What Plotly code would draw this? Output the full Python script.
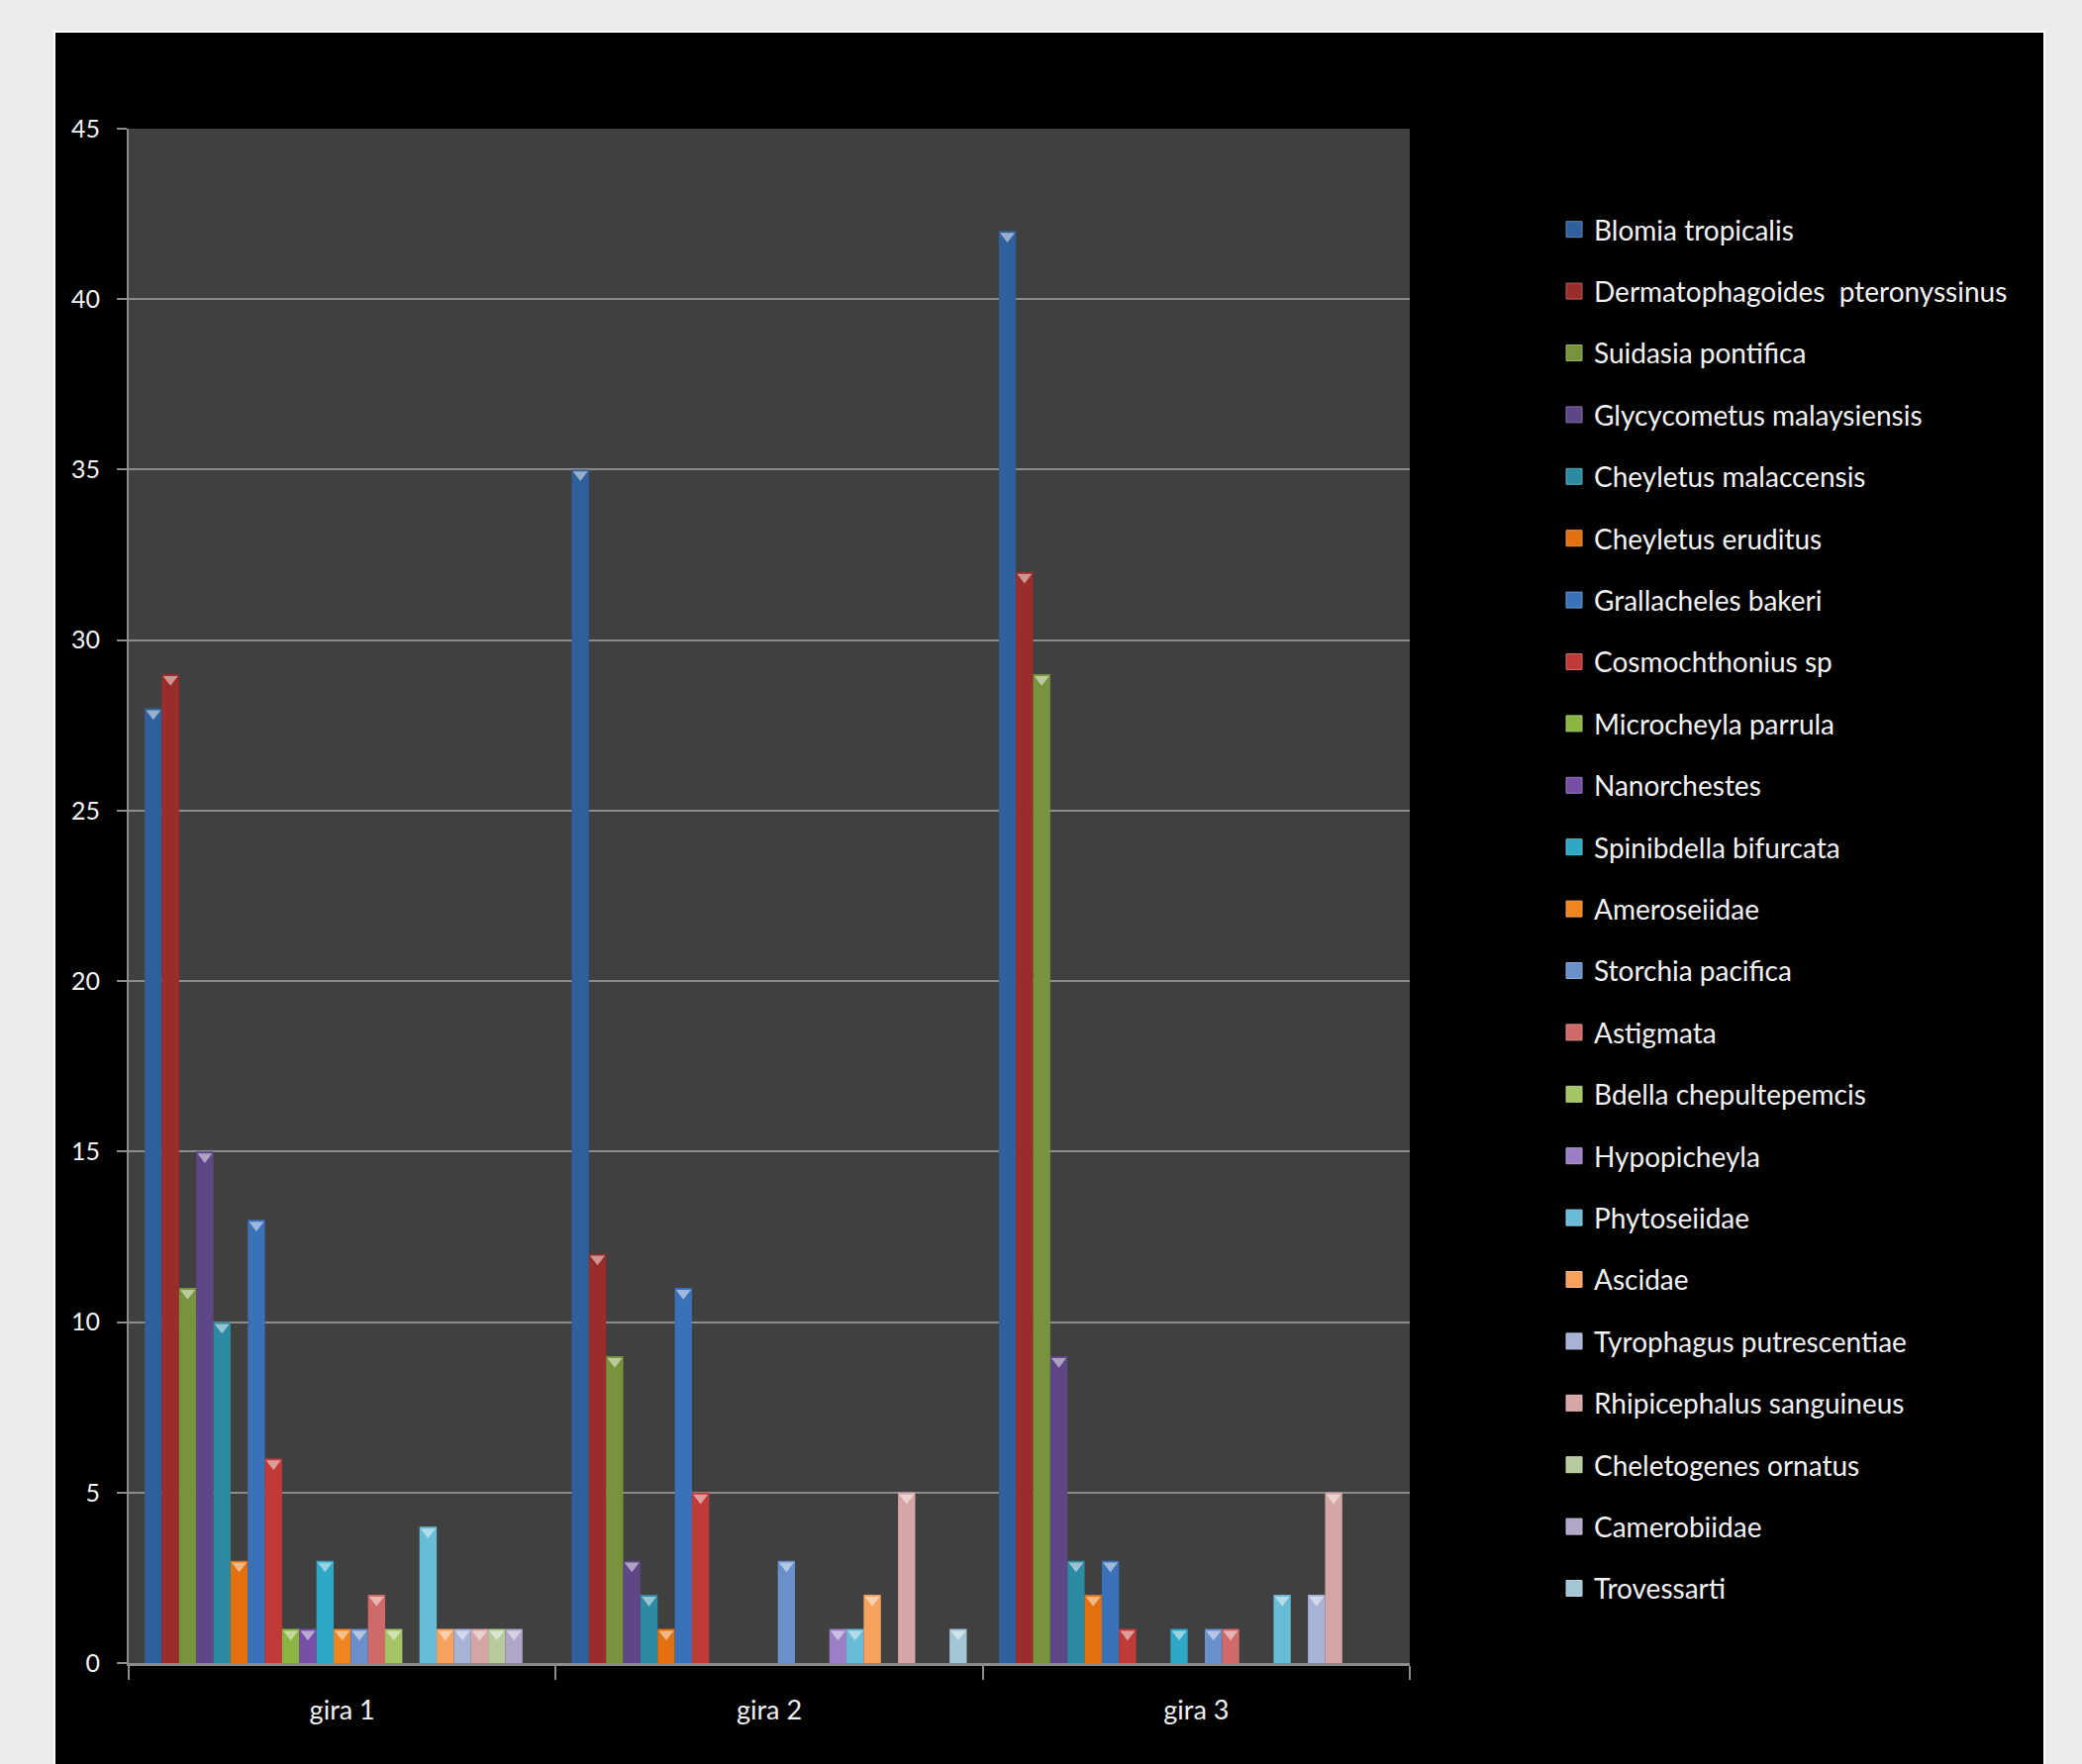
import plotly.graph_objects as go

categories = ["gira 1", "gira 2", "gira 3"]

species = [
    "Blomia tropicalis", "Dermatophagoides  pteronyssinus", "Suidasia pontifica",
    "Glycycometus malaysiensis", "Cheyletus malaccensis", "Cheyletus eruditus",
    "Grallacheles bakeri", "Cosmochthonius sp", "Microcheyla parrula",
    "Nanorchestes", "Spinibdella bifurcata", "Ameroseiidae", "Storchia pacifica",
    "Astigmata", "Bdella chepultepemcis", "Hypopicheyla", "Phytoseiidae",
    "Ascidae", "Tyrophagus putrescentiae", "Rhipicephalus sanguineus",
    "Cheletogenes ornatus", "Camerobiidae", "Trovessarti",
]

gira1 = [28, 29, 11, 15, 10, 3, 13, 6, 1, 1, 3, 1, 1, 2, 1, 0, 4, 1, 1, 1, 1, 1, 0]
gira2 = [35, 12, 9, 3, 2, 1, 11, 5, 0, 0, 0, 0, 3, 0, 0, 1, 1, 2, 0, 5, 0, 0, 1]
gira3 = [42, 32, 29, 9, 3, 2, 3, 1, 0, 0, 1, 0, 1, 1, 0, 0, 2, 0, 2, 5, 0, 0, 0]

colors = [
    "#2f5f9c", "#9a2c2a", "#77933c", "#5e4687", "#2d8aa3", "#e2700f",
    "#3a72ba", "#c03a38", "#8cb442", "#7550a6", "#2ea6c6", "#f0841f",
    "#6a90cc", "#cf6a68", "#a3c565", "#9a7ec6", "#68bcd6", "#f6a25e",
    "#a6b3d6", "#d6a6a6", "#b6cb9c", "#b0a6c8", "#a2c6d4",
]


def tint(hex_color, f=0.45):
    h = hex_color.lstrip("#")
    r, g, b = (int(h[k:k + 2], 16) for k in (0, 2, 4))
    r, g, b = (int(c + (255 - c) * f) for c in (r, g, b))
    return f"rgb({r},{g},{b})"


fig = go.Figure()

# legend entries (on a hidden helper axis so they do not affect grouping)
for i, name in enumerate(species):
    fig.add_trace(go.Scatter(
        x=[None], y=[None], mode="markers", name=name,
        marker=dict(symbol="square", size=20, color=colors[i],
                    line=dict(width=1, color=tint(colors[i], 0.25))),
        xaxis="x2", yaxis="y2", legendrank=i + 1, legendgroup=f"g{i}",
        showlegend=True, hoverinfo="skip",
    ))

for i, name in enumerate(species):
    vals = [gira1[i], gira2[i], gira3[i]]
    fig.add_trace(go.Bar(
        x=categories, y=vals, name=name, showlegend=False,
        marker=dict(color=colors[i], line=dict(width=0)),
    ))

# bevel caps at the top of each bar
for i, name in enumerate(species):
    vals = [gira1[i], gira2[i], gira3[i]]
    fig.add_trace(go.Scatter(
        x=categories, y=[v - 0.15 if v > 0 else None for v in vals],
        mode="markers", showlegend=False, name=name,
        marker=dict(symbol="triangle-down", size=13, color=tint(colors[i], 0.5),
                    line=dict(width=0)),
        hoverinfo="skip",
    ))

W, H = 2103, 1782
L, R, T, B = 130, 1424, 130, 1680
pw, ph = R - L, B - T


def px(xp):
    return (xp - L) / pw


def py(yp):
    return (B - yp) / ph


fig.update_layout(
    width=W, height=H,
    margin=dict(l=L, r=W - R, t=T, b=H - B),
    paper_bgcolor="#ececec",
    plot_bgcolor="#404040",
    barmode="group",
    bargap=0.075,
    bargroupgap=0,
    scattermode="group",
    scattergap=0.075,
    font=dict(family="Lato", color="#f2f2f2", size=27),
    showlegend=True,
    legend=dict(
        x=px(1570), y=py(207), xanchor="left", yanchor="top",
        bgcolor="rgba(0,0,0,0)",
        font=dict(family="Lato", size=28, color="#f2f2f2"),
        traceorder="grouped",
        tracegroupgap=23,
        itemsizing="trace",
        itemwidth=30,
    ),
    shapes=[
        dict(type="rect", xref="paper", yref="paper",
             x0=px(55), x1=px(2065), y0=py(1790), y1=py(32),
             fillcolor="#000000", line=dict(width=2, color="#ffffff"), layer="below"),
        dict(type="rect", xref="paper", yref="paper",
             x0=0, x1=1, y0=0, y1=1,
             fillcolor="#404040", line=dict(width=0), layer="below"),
    ],
    xaxis=dict(
        showgrid=False,
        showline=True, linecolor="#8c8c8c", linewidth=3,
        ticks="outside", tickson="boundaries", ticklen=14, tickwidth=2, tickcolor="#8c8c8c",
        tickfont=dict(family="Lato", size=27, color="#f2f2f2"),
        ticklabelstandoff=22,
        fixedrange=True,
    ),
    yaxis=dict(
        range=[0, 45], dtick=5, tick0=0,
        showgrid=True, gridcolor="#8c8c8c", gridwidth=2,
        showline=True, linecolor="#8c8c8c", linewidth=2,
        ticks="outside", ticklen=10, tickwidth=2, tickcolor="#8c8c8c",
        tickfont=dict(family="Lato", size=25, color="#f2f2f2"),
        ticklabelstandoff=12,
        zeroline=False,
        fixedrange=True,
    ),
    xaxis2=dict(visible=False, domain=[0.999, 1], anchor="y2", fixedrange=True),
    yaxis2=dict(visible=False, domain=[0.999, 1], anchor="x2", fixedrange=True),
)

fig.write_html("out.html")
